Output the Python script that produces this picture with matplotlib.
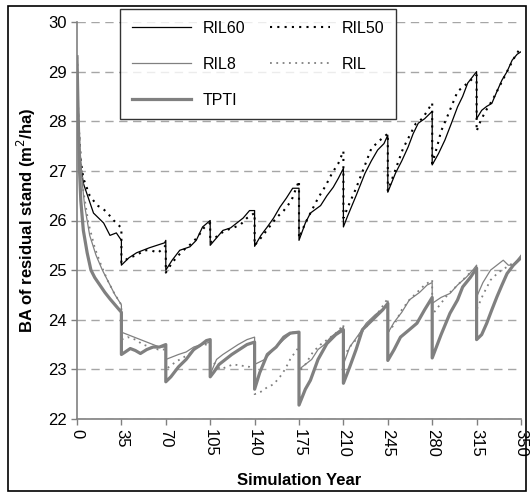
import matplotlib
matplotlib.use("Agg")
import matplotlib.pyplot as plt
from matplotlib.patches import Rectangle

plt.rcParams['font.family'] = ['Liberation Sans', 'DejaVu Sans']

# simulation years and basal area (m2/ha); repeated year = harvest drop
ril60_year = [0, 1, 3, 5, 9, 13, 17, 21, 26, 31, 35,
              35, 41, 47, 52, 57, 63, 69, 70,
              70, 75, 81, 89, 94, 99, 105,
              105, 110, 115, 121, 126, 131, 136, 140,
              140, 145, 150, 155, 160, 165, 170, 175,
              175, 180, 184, 192, 197, 202, 206, 210,
              210, 213, 220, 227, 232, 237, 242, 245,
              245, 251, 256, 261, 265, 269, 274, 280,
              280, 285, 290, 295, 300, 304, 308, 315,
              315, 319, 323, 327, 331, 335, 339, 343, 347, 350]
ril60_ba = [29.3, 27.8, 27.1, 26.75, 26.45, 26.15, 26.05, 25.95, 25.7, 25.75, 25.6,
            25.1, 25.25, 25.35, 25.4, 25.45, 25.5, 25.55, 25.6,
            25.0, 25.2, 25.4, 25.47, 25.6, 25.87, 26.0,
            25.5, 25.65, 25.8, 25.85, 25.95, 26.05, 26.2, 26.2,
            25.48, 25.7, 25.87, 26.05, 26.27, 26.45, 26.65, 26.65,
            25.6, 25.95, 26.15, 26.3, 26.5, 26.67, 26.85, 27.05,
            25.87, 26.07, 26.5, 26.95, 27.2, 27.42, 27.55, 27.72,
            26.57, 26.95, 27.2, 27.48, 27.75, 27.96, 28.05, 28.2,
            27.12, 27.35, 27.62, 27.95, 28.29, 28.5, 28.77, 29.0,
            28.05, 28.22, 28.3, 28.36, 28.6, 28.83, 29.0, 29.23, 29.35, 29.4]

ril50_year = [0, 1, 3, 5, 10, 16, 20, 24, 29, 35,
              35, 41, 47, 53, 58, 64, 70,
              70, 75, 80, 86, 91, 96, 100, 105,
              105, 111, 117, 123, 129, 134, 140,
              140, 145, 151, 157, 163, 169, 175,
              175, 180, 185, 190, 196, 201, 206, 210,
              210, 214, 220, 226, 232, 238, 245,
              245, 250, 257, 262, 267, 272, 276, 280,
              280, 284, 287, 292, 296, 300, 307, 315,
              315, 318, 322, 328, 333, 338, 344, 350]
ril50_ba = [29.3, 28.0, 27.2, 26.85, 26.5, 26.3, 26.25, 26.15, 26.0, 25.85,
            25.15, 25.25, 25.3, 25.4, 25.4, 25.35, 25.5,
            24.95, 25.15, 25.3, 25.45, 25.55, 25.7, 25.85, 25.95,
            25.55, 25.7, 25.8, 25.85, 25.92, 26.05, 26.15,
            25.5, 25.65, 25.85, 26.05, 26.2, 26.4, 26.8,
            25.65, 25.95, 26.2, 26.45, 26.7, 26.95, 27.15, 27.4,
            26.05, 26.3, 26.65, 27.05, 27.45, 27.6, 27.75,
            26.6, 26.95, 27.45, 27.7, 27.95, 28.05, 28.2, 28.37,
            27.15, 27.5, 27.8, 28.1, 28.35, 28.6, 28.75, 28.93,
            27.8, 28.0, 28.2, 28.45, 28.7, 28.95, 29.25, 29.5]

ril8_year = [0, 1, 2, 4, 6, 10, 15, 20, 25, 30, 35,
             35, 40, 45, 50, 55, 60, 65, 70,
             70, 75, 80, 86, 92, 98, 105,
             105, 110, 115, 121, 127, 134, 140,
             140, 144, 148, 155, 163, 170, 175,
             175, 180, 185, 190, 195, 200, 205, 210,
             210, 215, 222, 228, 235, 240, 245,
             245, 250, 256, 262, 270, 276, 280,
             280, 287, 294, 300, 307, 312, 315,
             315, 320, 326, 331, 336, 340, 344, 347, 350]
ril8_ba = [29.3, 28.3, 27.6, 26.8, 26.3, 25.7, 25.3, 25.0, 24.75, 24.5, 24.3,
           23.75, 23.7, 23.65, 23.6, 23.55, 23.5, 23.45, 23.45,
           23.2, 23.25, 23.3, 23.35, 23.45, 23.5, 23.55,
           22.9, 23.2, 23.3, 23.4, 23.5, 23.6, 23.65,
           23.1, 23.15, 23.2, 23.4, 23.6, 23.75, 23.75,
           23.0, 23.1, 23.2, 23.4, 23.5, 23.65, 23.75, 23.85,
           23.1, 23.45, 23.7, 23.93, 24.1, 24.2, 24.3,
           23.73, 23.95, 24.15, 24.4, 24.55, 24.7, 24.75,
           24.33, 24.45, 24.53, 24.7, 24.86, 25.0, 25.1,
           24.46, 24.75, 25.0, 25.1, 25.2, 25.1, 25.1, 25.2, 25.3]

ril_year = [0, 1, 3, 5, 9, 14, 19, 24, 29, 35,
            35, 40, 46, 52, 58, 64, 70,
            70, 75, 81, 88, 95, 100, 105,
            105, 113, 118, 123, 131, 136, 140,
            140, 145, 150, 155, 160, 164, 168, 172, 175,
            175, 180, 186, 192, 200, 205, 210,
            210, 215, 220, 226, 233, 239, 245,
            245, 250, 256, 262, 268, 274, 280,
            280, 286, 292, 298, 304, 310, 315,
            315, 320, 326, 332, 338, 344, 350]
ril_ba = [29.3, 28.2, 27.2, 26.6, 25.95, 25.45, 25.1, 24.8, 24.55, 24.3,
          23.6, 23.65, 23.6, 23.5, 23.45, 23.4, 23.4,
          23.0, 23.1, 23.2, 23.3, 23.45, 23.5, 23.5,
          23.2, 23.0, 23.05, 23.1, 23.07, 23.05, 23.0,
          22.5, 22.55, 22.64, 22.7, 22.85, 23.0, 23.2, 23.35, 23.45,
          22.95, 23.1, 23.35, 23.5, 23.65, 23.75, 23.9,
          23.25, 23.45, 23.6, 23.8, 24.0, 24.2, 24.43,
          23.75, 23.9, 24.2, 24.4, 24.55, 24.7, 24.8,
          24.1, 24.3, 24.5, 24.65, 24.8, 24.95, 25.0,
          24.2, 24.5, 24.8, 24.95, 25.05, 25.15, 25.2]

tpti_year = [0, 1, 2, 3, 5, 8, 11, 14, 18, 22, 26, 30, 35,
             35, 38, 42, 46, 50, 55, 60, 65, 70,
             70, 74, 80, 86, 92, 98, 102, 105,
             105, 108, 112, 117, 122, 128, 134, 140,
             140, 144, 150, 157, 163, 168, 175,
             175, 180, 184, 190, 197, 204, 210,
             210, 215, 220, 225, 233, 241, 245,
             245, 250, 255, 262, 268, 274, 280,
             280, 287, 294, 300, 304, 310, 315,
             315, 319, 323, 327, 331, 335, 339, 344, 350]
tpti_ba = [29.3, 28.0, 27.0, 26.4, 25.8, 25.35, 25.0, 24.85, 24.7, 24.55, 24.42, 24.3, 24.15,
           23.3, 23.35, 23.42, 23.38, 23.32, 23.4, 23.45, 23.45, 23.5,
           22.75, 22.85, 23.05, 23.2, 23.4, 23.5, 23.58, 23.6,
           22.85, 22.95, 23.1, 23.2, 23.3, 23.4, 23.5, 23.55,
           22.6, 22.93, 23.3, 23.45, 23.65, 23.73, 23.75,
           22.28, 22.6, 22.78, 23.2, 23.52, 23.7, 23.8,
           22.72, 23.05, 23.4, 23.8, 24.0, 24.2, 24.33,
           23.18, 23.4, 23.65, 23.8, 23.93, 24.2, 24.45,
           23.23, 23.7, 24.13, 24.4, 24.66, 24.85, 25.04,
           23.6, 23.7, 23.93, 24.2, 24.46, 24.7, 24.93, 25.1, 25.25]

xticks = [0, 35, 70, 105, 140, 175, 210, 245, 280, 315, 350]
yticks = [22, 23, 24, 25, 26, 27, 28, 29, 30]

fig = plt.figure(figsize=(5.3, 4.95), dpi=100)
ax = fig.add_axes([77 / 530, 1 - 419 / 495, 444 / 530, 397 / 495])

grey = '#808080'
l60, = ax.plot(ril60_year, ril60_ba, color='black', lw=0.9, label='RIL60')
l50, = ax.plot(ril50_year, ril50_ba, color='black', lw=1.5, ls=(0, (1, 2.5)), label='RIL50')
l8, = ax.plot(ril8_year, ril8_ba, color=grey, lw=0.9, label='RIL8')
lr, = ax.plot(ril_year, ril_ba, color=grey, lw=1.3, ls=(0, (1, 2.5)), label='RIL')
lt, = ax.plot(tpti_year, tpti_ba, color=grey, lw=2.3, label='TPTI')

ax.set_xlim(0, 350)
ax.set_ylim(22, 30)
ax.set_xticks(xticks)
ax.set_yticks(yticks)
ax.set_xticklabels([str(v) for v in xticks], rotation=-90)
ax.tick_params(labelsize=12, color=grey, length=4, width=1)
ax.yaxis.grid(True, color='#a6a6a6', ls=(0, (6, 4)), lw=1)
ax.set_axisbelow(True)
for s in ['top', 'right']:
    ax.spines[s].set_visible(False)
for s in ['left', 'bottom']:
    ax.spines[s].set_color(grey)
    ax.spines[s].set_linewidth(1.2)

ax.set_xlabel('Simulation Year', fontsize=12, fontweight='bold', labelpad=11)
ax.set_ylabel('BA of residual stand (m$^2$/ha)', fontsize=12, fontweight='bold', labelpad=7)

leg = fig.legend([l60, l8, lt, l50, lr], ['RIL60', 'RIL8', 'TPTI', 'RIL50', 'RIL'],
                 ncol=2, loc='upper left', bbox_to_anchor=(120 / 530, 1 - 9 / 495),
                 fontsize=11.5, frameon=True, fancybox=False, edgecolor='black',
                 handlelength=3.7, handletextpad=0.75, columnspacing=1.55,
                 labelspacing=1.3, borderpad=0.75, borderaxespad=0)
leg.get_frame().set_linewidth(1.0)

# outer border of the figure
fig.patches.append(Rectangle((8 / 530, 4 / 495), 518 / 530, 485 / 495,
                             transform=fig.transFigure, fill=False,
                             edgecolor='black', lw=1.2))

fig.savefig('out.png', dpi=100)
